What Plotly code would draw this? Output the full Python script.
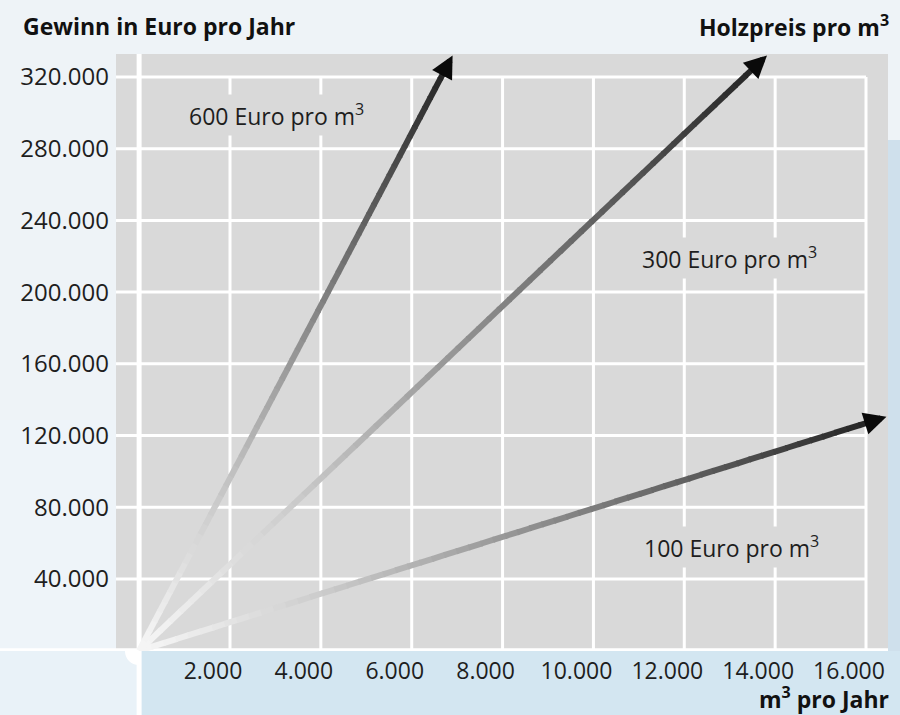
import numpy as np
import plotly.graph_objects as go

# ---------------- data ----------------
serie_namen = ["100 Euro pro m<sup>3</sup>", "300 Euro pro m<sup>3</sup>", "600 Euro pro m<sup>3</sup>"]
m3_start = [0, 0, 0]
gewinn_start = [0, 0, 0]
m3_ende = [16450, 13820, 6900]
gewinn_ende = [130500, 332000, 332000]
label_x = [13050, 13000, 3030]
label_y = [58000, 219000, 299000]

x_tickvals = [2000, 4000, 6000, 8000, 10000, 12000, 14000, 16000]
x_ticktext = ["2.000", "4.000", "6.000", "8.000", "10.000", "12.000", "14.000", "16.000"]
y_tickvals = [40000, 80000, 120000, 160000, 200000, 240000, 280000, 320000]
y_ticktext = ["40.000", "80.000", "120.000", "160.000", "200.000", "240.000", "280.000", "320.000"]

# ---------------- layout constants ----------------
W, H = 900, 715
ML, MR, MT, MB = 116, 12, 54, 64
PW, PH = W - ML - MR, H - MT - MB
XR = [-509, 16484]
YR = [-170, 332800]
GRAY = "#d9d9d9"
FONT = "Open Sans"
FS = 23

def px_x(px):
    return (px - ML) / PW

def px_y(py):
    return (H - MB - py) / PH

sx = PW / (XR[1] - XR[0])
sy = PH / (YR[1] - YR[0])

fig = go.Figure()
annotations = []

# gradient lines (each arrow drawn as short segments so the grey shade can change along it)
N = 60
for x0, y0, x1, y1 in zip(m3_start, gewinn_start, m3_ende, gewinn_ende):
    plen = np.hypot((x1 - x0) * sx, (y1 - y0) * sy)
    tend = 1 - 16 / plen
    ts = np.linspace(0, tend, N + 1)
    for i in range(N):
        tm = (ts[i] + ts[i + 1]) / 2 / tend
        v = int(round(246 - 210 * tm ** 1.15))
        col = f"rgb({v},{v},{v})"
        fig.add_trace(go.Scatter(
            x=[x0 + (x1 - x0) * ts[i], x0 + (x1 - x0) * min(ts[i + 1] + 0.002, tend)],
            y=[y0 + (y1 - y0) * ts[i], y0 + (y1 - y0) * min(ts[i + 1] + 0.002, tend)],
            mode="lines", line=dict(color=col, width=6), hoverinfo="skip",
            showlegend=False, cliponaxis=False))
    # arrow head (annotation arrow pointing at the end value)
    tb = 1 - 24 / plen
    annotations.append(dict(x=x1, y=y1, xref="x", yref="y",
                            ax=x0 + (x1 - x0) * tb, ay=y0 + (y1 - y0) * tb,
                            axref="x", ayref="y", text="", showarrow=True,
                            arrowhead=2, arrowsize=0.75, arrowwidth=6,
                            arrowcolor="#0a0a0a", standoff=0, startstandoff=0))

shapes = []
# background tints
shapes.append(dict(type="rect", xref="paper", yref="paper", x0=px_x(0), x1=px_x(900),
                   y0=px_y(715), y1=px_y(651), fillcolor="#d3e6f1", line=dict(width=0), layer="below"))
shapes.append(dict(type="rect", xref="paper", yref="paper", x0=px_x(0), x1=px_x(140),
                   y0=px_y(715), y1=px_y(651), fillcolor="#e9f2f8", line=dict(width=0), layer="below"))
shapes.append(dict(type="rect", xref="paper", yref="paper", x0=px_x(888), x1=px_x(900),
                   y0=px_y(651), y1=px_y(140), fillcolor="#cfe0ec", line=dict(width=0), layer="below"))
shapes.append(dict(type="rect", xref="paper", yref="paper", x0=px_x(0), x1=px_x(116),
                   y0=px_y(651), y1=px_y(420), fillcolor="#eef4f9", line=dict(width=0), layer="below"))

# grid lines (limited to the tick range)
for xv in x_tickvals:
    shapes.append(dict(type="line", xref="x", yref="y", x0=xv, x1=xv, y0=0, y1=max(y_tickvals),
                       line=dict(color="white", width=3), layer="below"))
for yv in y_tickvals:
    shapes.append(dict(type="line", xref="paper", yref="y", x0=0, x1=px_x(866), y0=yv, y1=yv,
                       line=dict(color="white", width=3), layer="below"))
# axis lines
shapes.append(dict(type="line", xref="x", yref="paper", x0=0, x1=0, y0=px_y(715), y1=1,
                   line=dict(color="white", width=5), layer="below"))
shapes.append(dict(type="line", xref="paper", yref="y", x0=px_x(0), x1=1, y0=0, y1=0,
                   line=dict(color="white", width=5), layer="below"))
# small rounded white corner at origin
cx, cy = 139, 651
shapes.append(dict(type="path", xref="paper", yref="paper",
                   path=(f"M {px_x(cx)},{px_y(cy)} L {px_x(cx-14)},{px_y(cy)} "
                         f"C {px_x(cx-14)},{px_y(cy+8)} {px_x(cx-8)},{px_y(cy+14)} {px_x(cx)},{px_y(cy+14)} Z"),
                   fillcolor="white", line=dict(width=0), layer="below"))

for name, lx, ly in zip(serie_namen, label_x, label_y):
    annotations.append(dict(x=lx, y=ly, xref="x", yref="y", text=name, showarrow=False,
                            font=dict(family=FONT, size=FS, color="#1e1e1e"),
                            bgcolor=GRAY, borderpad=3))
annotations.append(dict(x=px_x(21), y=px_y(26), xref="paper", yref="paper", xanchor="left",
                        yanchor="middle", text="<b>Gewinn in Euro pro Jahr</b>", showarrow=False,
                        font=dict(family=FONT, size=FS, color="#111")))
annotations.append(dict(x=px_x(891), y=px_y(26), xref="paper", yref="paper", xanchor="right",
                        yanchor="middle", text="<b>Holzpreis pro m<sup>3</sup></b>", showarrow=False,
                        font=dict(family=FONT, size=FS, color="#111")))
annotations.append(dict(x=px_x(891), y=px_y(698), xref="paper", yref="paper", xanchor="right",
                        yanchor="middle", text="<b>m<sup>3</sup> pro Jahr</b>", showarrow=False,
                        font=dict(family=FONT, size=FS, color="#111")))

fig.update_layout(
    width=W, height=H, margin=dict(l=ML, r=MR, t=MT, b=MB, pad=0),
    paper_bgcolor="#eef3f7", plot_bgcolor=GRAY, showlegend=False,
    shapes=shapes, annotations=annotations,
    xaxis=dict(range=XR, showgrid=False, zeroline=False, showline=False,
               tickvals=x_tickvals, ticktext=x_ticktext, ticks="",
               tickfont=dict(family=FONT, size=FS, color="#1e1e1e"),
               ticklabelshift=-17, ticklabelstandoff=4, fixedrange=True),
    yaxis=dict(range=YR, showgrid=False, zeroline=False, showline=False,
               tickvals=y_tickvals, ticktext=y_ticktext, ticks="",
               tickfont=dict(family=FONT, size=FS + 1, color="#1e1e1e"),
               ticklabelstandoff=6, fixedrange=True),
)

fig.write_html("out.html", config={"displayModeBar": False},
               post_script="document.body.style.margin='0';document.body.style.overflow='hidden';")
